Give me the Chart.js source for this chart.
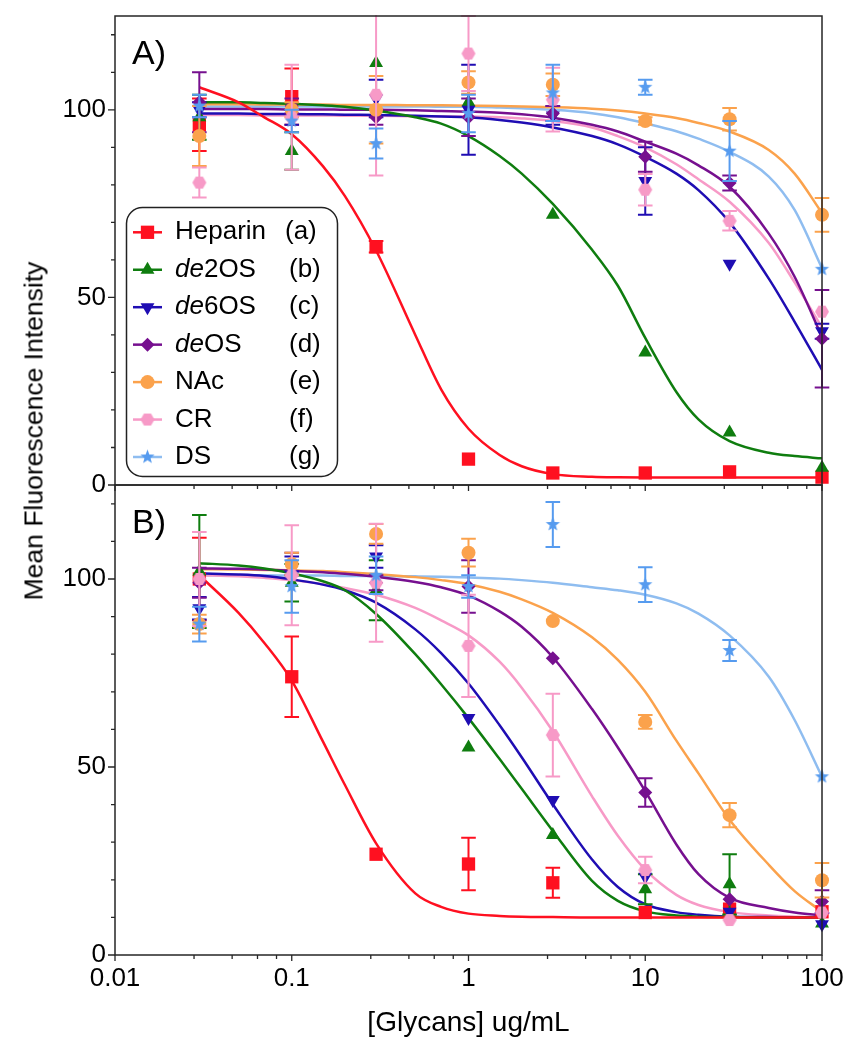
<!DOCTYPE html>
<html lang="en">
<head>
<meta charset="UTF-8">
<meta name="viewport" content="width=device-width, initial-scale=1.0">
<title>Glycan inhibition - Mean Fluorescence Intensity</title>
<script src="https://cdn.jsdelivr.net/npm/chart.js"></script>
<style>
    body { margin: 0; background: #fff; }
    .figure { position: relative; width: 859px; height: 1050px; overflow: hidden; }
    .figure canvas { position: absolute; left: 0; }
    #panelA { top: 0; }
    #panelB { top: 469px; }
    .ytitle {
        position: absolute; left: 34px; top: 431px;
        transform: translate(-50%, -50%) rotate(-90deg);
        font: 26.5px "Liberation Sans", Arial, sans-serif;
        white-space: nowrap; color: #000;
    }
</style>
</head>
<body>
<div class="figure">
    <canvas id="panelA" width="859" height="510"></canvas>
    <canvas id="panelB" width="859" height="581"></canvas>
    <div class="ytitle">Mean Fluorescence Intensity</div>
</div>

<script>
// ---- data ----
const seriesNames = ['Heparin', 'de2OS', 'de6OS', 'deOS', 'NAc', 'CR', 'DS'];
const seriesTags = ['(a)', '(b)', '(c)', '(d)', '(e)', '(f)', '(g)'];

// measured concentrations (ug/mL)
const conc = [0.03, 0.1, 0.3, 1, 3, 10, 30, 100];

// panel A means and errors
const ptsA_hep  = [96, 103.5, 63.5, 6.9, 3.2, 3.2, 3.5, 2.1];
const errA_hep  = [7, 7.5, 1.5, 0, 0, 0, 0, 0];
const ptsA_2OS  = [98, 89, 112.5, 102, 72, 35.3, 14, 4.6];
const errA_2OS  = [6, 5, 0, 0, 0, 0, 0, 0];
const ptsA_6OS  = [100, 98, 103, 100, 98.5, 81, 59, 41];
const errA_6OS  = [2, 2, 5, 12, 2.5, 9, 0, 2];
const ptsA_deOS = [102, 101, 98, 98, 99, 87.5, 80.5, 39];
const errA_deOS = [8, 2, 2, 5, 2, 4, 2, 13];
const ptsA_NAc  = [93, 100, 100, 107.3, 106.7, 97, 97.5, 72];
const errA_NAc  = [8, 2, 9, 3, 3, 1, 3, 4.5];
const ptsA_CR   = [80.6, 98, 104, 115, 102.7, 78.7, 70.4, 46.2];
const errA_CR   = [4, 14, 21.5, 10, 8.5, 4.2, 2.6, 0];
const ptsA_DS   = [101, 97, 91, 99, 104.5, 106, 89, 57.5];
const errA_DS   = [3, 3, 4, 5, 7.5, 2, 8, 0];

// panel B means and errors
const ptsB_hep  = [100, 74, 26.8, 24.2, 19.2, 11.3, 12.2, 11.5];
const errB_hep  = [11, 10.7, 0, 7, 4, 0, 0, 0];
const ptsB_2OS  = [102, 99, 97, 55.2, 31.9, 17.5, 18.8, 8.4];
const errB_2OS  = [15, 5, 8, 0, 0, 4, 8, 0];
const ptsB_6OS  = [92.2, 104, 106, 63, 41.2, 20.8, 11.5, 8.2];
const errB_6OS  = [3, 2, 3, 0, 0, 0, 0, 0];
const ptsB_deOS = [99, 104, 99, 98, 78.9, 43.2, 14.8, 14.2];
const errB_deOS = [4, 3, 2, 7, 0, 3.8, 0, 3];
const ptsB_NAc  = [88, 104, 112, 107, 88.8, 62, 37.2, 19.9];
const errB_NAc  = [2.5, 3, 2.6, 3.7, 0, 1.8, 3.2, 4.6];
const ptsB_CR   = [100, 101, 99, 82.2, 58.5, 22.6, 9.3, 11.3];
const errB_CR   = [12.5, 13.3, 15.7, 13.6, 11, 3.5, 0, 0];
const ptsB_DS   = [88, 98, 101, 98, 114.5, 98.5, 81, 47.4];
const errB_DS   = [4.6, 7, 5, 3, 6, 4.6, 2.8, 0];

const curveX = [0.03, 0.05, 0.07, 0.1, 0.15, 0.2, 0.3, 0.5, 0.7, 1, 1.5, 2, 3, 5, 7, 10, 15, 20, 30, 50, 70, 100];

const fitA_hep  = [106, 102, 98, 93.5, 85, 77, 62.5, 40, 25.5, 15, 8, 5, 2.9, 2.2, 2.05, 2, 2, 2, 2, 2, 2, 2];
const fitA_2OS  = [102, 102, 101.8, 101.6, 101.2, 100.8, 99.8, 98, 96.3, 93, 87.7, 83, 74.9, 62.7, 53.1, 39.2, 24.8, 17.5, 11.7, 8.6, 7.7, 7.1];
const fitA_6OS  = [99, 99, 98.9, 98.9, 98.8, 98.7, 98.6, 98.4, 98.2, 98, 97.3, 96.6, 95.3, 93, 90.8, 87.5, 83, 78.6, 70, 55, 43.5, 30.7];
const fitA_deOS = [100.2, 100.2, 100.2, 100.1, 100.1, 100, 100, 99.9, 99.7, 99.5, 99.2, 98.8, 97.9, 96, 94.2, 91.5, 88.3, 85.2, 79.5, 67, 55.5, 39.5];
const fitA_NAc  = [101.5, 101.5, 101.4, 101.4, 101.4, 101.3, 101.3, 101.2, 101.2, 101.1, 101, 100.9, 100.7, 100.3, 99.8, 99, 97.8, 96.5, 94.2, 89.3, 83, 72.5];
const fitA_CR   = [98.6, 98.6, 98.5, 98.5, 98.5, 98.4, 98.4, 98.3, 98.3, 98.2, 98, 97.7, 97, 95.3, 93, 90, 85.5, 81.5, 75.5, 64.5, 54, 42];
const fitA_DS   = [100.9, 100.9, 100.9, 100.9, 100.9, 100.9, 100.9, 100.9, 100.8, 100.8, 100.6, 100.4, 100, 99.1, 98, 96.4, 94.3, 92.3, 88.8, 82.2, 73.3, 57.8];

const fitB_hep  = [101, 91, 83, 73, 56.8, 45.2, 29.7, 16.4, 12.8, 11, 10.4, 10.2, 10.1, 10, 10, 10, 10, 10, 10, 10, 10, 10];
const fitB_2OS  = [104.2, 103.6, 102.8, 101.5, 99.4, 97, 90.7, 80, 72, 63, 52.1, 44.2, 33, 19.7, 14.4, 11.6, 10.5, 10.2, 10.1, 10, 10, 10];
const fitB_6OS  = [101.5, 101.2, 100.8, 99.9, 98.5, 97, 93.7, 86.6, 80.3, 72.2, 61.1, 52.6, 40.1, 25.4, 18.1, 13.5, 11.4, 10.7, 10.2, 10.1, 10, 10];
const fitB_deOS = [102.8, 102.7, 102.5, 102.2, 101.8, 101.4, 100.6, 99.2, 97.8, 95.6, 91.4, 87.3, 79.2, 65.4, 55.2, 43.6, 29.4, 21.5, 15.2, 12.5, 11.3, 10.5];
const fitB_NAc  = [102.6, 102.5, 102.4, 102.3, 102.1, 101.8, 101.3, 100.5, 99.7, 98.6, 96.6, 94.6, 91, 84.5, 78.5, 70, 57, 48.3, 36, 24, 17, 11.5];
const fitB_CR   = [101, 100.7, 100.3, 99.7, 98.6, 97.6, 95.8, 92.3, 89, 85, 78, 71.1, 59.5, 42.2, 31.7, 22.7, 16, 13.3, 11.4, 10.5, 10.2, 10];
const fitB_DS   = [101, 101, 101, 100.9, 100.9, 100.8, 100.8, 100.7, 100.6, 100.4, 100.1, 99.7, 99, 97.8, 97, 95.8, 93.5, 90.8, 85, 74, 62.5, 47.4];

// axes
const xMajorTicks = [0.01, 0.1, 1, 10, 100];
const xTickLabels = ['0.01', '0.1', '1', '10', '100'];
const xMinorTicks = [0.028, 0.046, 0.064, 0.082, 0.28, 0.46, 0.64, 0.82, 2.8, 4.6, 6.4, 8.2, 28, 46, 64, 82];
const yLabelValues = [0, 50, 100];
const yTickValues = [0, 10, 20, 30, 40, 50, 60, 70, 80, 90, 100, 110, 120];

// ---- styling ----
const FAMILY = '"Liberation Sans", Arial, sans-serif';
Chart.defaults.font.family = FAMILY;
Chart.defaults.color = '#000';

const colors = ['#ff1020', '#0f7d0f', '#1f0db3', '#76108f', '#fba24c', '#f79ac7', '#569bef'];
const lineColors = ['#ff1020', '#0f7d0f', '#1f0db3', '#76108f', '#fba24c', '#f79ac7', '#8fbdf0'];

function starImage(color, r) {
    const c = document.createElement('canvas');
    const s = Math.ceil(2 * r + 2);
    c.width = s; c.height = s;
    const g = c.getContext('2d');
    g.fillStyle = color;
    g.beginPath();
    for (let k = 0; k < 10; k++) {
        const ang = -Math.PI / 2 + k * Math.PI / 5;
        const rr = k % 2 ? r * 0.42 : r;
        g.lineTo(s / 2 + rr * Math.cos(ang), s / 2 + rr * Math.sin(ang));
    }
    g.closePath();
    g.fill();
    return c;
}

function hexImage(color, r) {
    const c = document.createElement('canvas');
    const s = Math.ceil(2 * r + 2);
    c.width = s; c.height = s;
    const g = c.getContext('2d');
    g.fillStyle = color;
    g.beginPath();
    for (let k = 0; k < 6; k++) {
        const ang = k * Math.PI / 3;
        g.lineTo(s / 2 + r * Math.cos(ang), s / 2 + r * Math.sin(ang));
    }
    g.closePath();
    g.fill();
    return c;
}

const markers = [
    { style: 'rect', radius: 9.4, rotation: 0 },
    { style: 'triangle', radius: 8, rotation: 0 },
    { style: 'triangle', radius: 8, rotation: 180 },
    { style: 'rectRot', radius: 7, rotation: 0 },
    { style: 'circle', radius: 7, rotation: 0 },
    { style: hexImage(colors[5], 7), radius: 7, rotation: 0 },
    { style: starImage(colors[6], 7.5), radius: 7, rotation: 0 }
];

// error bars drawn right under each marker dataset
const errorBars = {
    id: 'errorBars',
    beforeDatasetDraw(chart, args) {
        const ds = chart.data.datasets[args.index];
        if (!ds.errors) return;
        const { ctx, chartArea: a, scales: { x, y } } = chart;
        ctx.save();
        ctx.beginPath();
        ctx.rect(a.left - 10, a.top - 1, a.right - a.left + 20, a.bottom - a.top + 2);
        ctx.clip();
        ctx.strokeStyle = ds.pointBorderColor;
        ctx.lineWidth = 2;
        ds.data.forEach((p, i) => {
            const e = ds.errors[i];
            if (!e) return;
            const px = x.getPixelForValue(p.x);
            const top = y.getPixelForValue(p.y + e);
            const bot = y.getPixelForValue(p.y - e);
            ctx.beginPath();
            ctx.moveTo(px, top); ctx.lineTo(px, bot);
            ctx.moveTo(px - 7.3, top); ctx.lineTo(px + 7.3, top);
            ctx.moveTo(px - 7.3, bot); ctx.lineTo(px + 7.3, bot);
            ctx.stroke();
        });
        ctx.restore();
    }
};

function roundedBox(ctx, x, y, w, h, r) {
    ctx.beginPath();
    ctx.moveTo(x + r, y);
    ctx.arcTo(x + w, y, x + w, y + h, r);
    ctx.arcTo(x + w, y + h, x, y + h, r);
    ctx.arcTo(x, y + h, x, y, r);
    ctx.arcTo(x, y, x + w, y, r);
    ctx.closePath();
}

function drawLegend(ctx) {
    roundedBox(ctx, 126.5, 207.5, 211, 269, 16);
    ctx.fillStyle = '#fff';
    ctx.fill();
    ctx.lineWidth = 1.5;
    ctx.strokeStyle = '#222';
    ctx.stroke();
    seriesNames.forEach((name, i) => {
        const y = 232.3 + i * 37.45;
        ctx.strokeStyle = lineColors[i];
        ctx.lineWidth = 2.5;
        ctx.beginPath();
        ctx.moveTo(133, y); ctx.lineTo(162, y);
        ctx.stroke();
        ctx.fillStyle = colors[i];
        Chart.helpers.drawPoint(ctx, {
            pointStyle: markers[i].style, radius: markers[i].radius,
            rotation: markers[i].rotation, borderWidth: 0
        }, 147.5, y);

        ctx.fillStyle = '#000';
        ctx.textAlign = 'left';
        ctx.textBaseline = 'middle';
        let tx = 175;
        let rest = name;
        if (name.startsWith('de')) {
            ctx.font = 'italic 26px ' + FAMILY;
            ctx.fillText('de', tx, y);
            tx += ctx.measureText('de').width;
            rest = name.slice(2);
        }
        ctx.font = '26px ' + FAMILY;
        ctx.fillText(rest, tx, y);
        ctx.fillText(seriesTags[i], i === 0 ? 285 : 289, y);
    });
}

// frame, tick marks, panel letter, legend
const decor = {
    id: 'decor',
    afterDraw(chart, args, opts) {
        const { ctx, chartArea: a, scales: { x, y } } = chart;
        ctx.save();
        ctx.strokeStyle = '#262626';
        ctx.lineWidth = 1.5;
        ctx.strokeRect(a.left, a.top, a.right - a.left, a.bottom - a.top);

        ctx.beginPath();
        yTickValues.forEach(v => {
            const py = y.getPixelForValue(v);
            const len = yLabelValues.includes(v) ? 7 : 4;
            ctx.moveTo(a.left - len, py); ctx.lineTo(a.left, py);
        });
        xMajorTicks.forEach(v => {
            const px = x.getPixelForValue(v);
            ctx.moveTo(px, a.bottom); ctx.lineTo(px, a.bottom + 6);
        });
        xMinorTicks.forEach(v => {
            const px = x.getPixelForValue(v);
            ctx.moveTo(px, a.bottom); ctx.lineTo(px, a.bottom + 4);
        });
        ctx.lineWidth = 1.3;
        ctx.stroke();

        ctx.fillStyle = '#000';
        ctx.font = '34px ' + FAMILY;
        ctx.textAlign = 'left';
        ctx.textBaseline = 'alphabetic';
        ctx.fillText(opts.label, a.left + 17, a.top + 48);

        if (opts.withLegend) drawLegend(ctx);
        ctx.restore();
    }
};

function makePanel(canvasId, fits, means, errors, label, withLegend, isBottom) {
    const datasets = [];
    seriesNames.forEach((name, i) => {
        datasets.push({
            label: name + ' fit',
            data: curveX.map((cx, k) => ({ x: cx, y: fits[i][k] })),
            showLine: true,
            borderColor: lineColors[i],
            borderWidth: 2.5,
            pointRadius: 0,
            cubicInterpolationMode: 'monotone',
            order: 10
        });
        datasets.push({
            label: name,
            data: conc.map((cx, k) => ({ x: cx, y: means[i][k] })),
            errors: errors[i],
            showLine: false,
            pointStyle: markers[i].style,
            pointRadius: markers[i].radius,
            pointRotation: markers[i].rotation,
            pointBackgroundColor: colors[i],
            pointBorderColor: colors[i],
            pointBorderWidth: 0,
            clip: false,
            order: 7 - i
        });
    });

    return new Chart(document.getElementById(canvasId), {
        type: 'scatter',
        data: { datasets: datasets },
        options: {
            responsive: false,
            animation: false,
            events: [],
            layout: { padding: { top: 16, right: 37, bottom: isBottom ? 10 : 25, left: 0 } },
            plugins: {
                legend: { display: false },
                tooltip: { enabled: false },
                decor: { label: label, withLegend: withLegend }
            },
            scales: {
                x: {
                    type: 'logarithmic',
                    min: 0.01,
                    max: 100,
                    display: isBottom,
                    afterBuildTicks: s => { s.ticks = xMajorTicks.map(v => ({ value: v })); },
                    afterFit: s => { if (isBottom) s.height = 85; },
                    grid: { display: false, drawTicks: false },
                    border: { display: false },
                    ticks: {
                        autoSkip: false, maxRotation: 0, padding: 8,
                        font: { size: 26 }, color: '#000',
                        callback: v => xTickLabels[xMajorTicks.indexOf(v)]
                    },
                    title: {
                        display: true, text: '[Glycans] ug/mL',
                        font: { size: 28 }, color: '#000', padding: 0
                    }
                },
                y: {
                    min: 0,
                    max: 125,
                    afterBuildTicks: s => { s.ticks = yLabelValues.map(v => ({ value: v })); },
                    afterFit: s => { s.width = 115; },
                    // tick marks are drawn by the decor plugin; tickLength only spaces the labels
                    grid: { display: false, drawTicks: true, tickLength: 9 },
                    border: { display: false },
                    ticks: {
                        autoSkip: false, padding: 0,
                        font: { size: 26 }, color: '#000',
                        callback: v => String(v)
                    }
                }
            }
        },
        plugins: [errorBars, decor]
    });
}

makePanel('panelA',
    [fitA_hep, fitA_2OS, fitA_6OS, fitA_deOS, fitA_NAc, fitA_CR, fitA_DS],
    [ptsA_hep, ptsA_2OS, ptsA_6OS, ptsA_deOS, ptsA_NAc, ptsA_CR, ptsA_DS],
    [errA_hep, errA_2OS, errA_6OS, errA_deOS, errA_NAc, errA_CR, errA_DS],
    'A)', true, false);

makePanel('panelB',
    [fitB_hep, fitB_2OS, fitB_6OS, fitB_deOS, fitB_NAc, fitB_CR, fitB_DS],
    [ptsB_hep, ptsB_2OS, ptsB_6OS, ptsB_deOS, ptsB_NAc, ptsB_CR, ptsB_DS],
    [errB_hep, errB_2OS, errB_6OS, errB_deOS, errB_NAc, errB_CR, errB_DS],
    'B)', false, true);
</script>
</body>
</html>
